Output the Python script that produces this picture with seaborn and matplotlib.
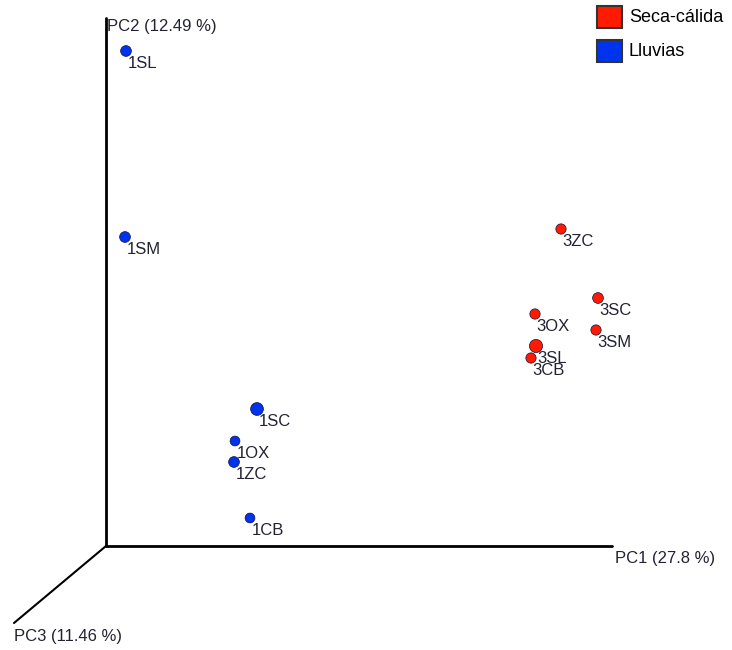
import matplotlib.pyplot as plt
import seaborn as sns
import pandas as pd
from matplotlib.patches import Rectangle

# =========================
# DATA (projected positions of the 3D PCoA)
# =========================
samples = ["1SL", "1SM", "1SC", "1OX", "1ZC", "1CB",
           "3ZC", "3SC", "3OX", "3SM", "3SL", "3CB"]
season = ["Lluvias"] * 6 + ["Seca-cálida"] * 6
screen_x = [126, 125, 257, 235, 234, 250, 561, 598, 535, 596, 536, 531]
screen_y = [51, 237, 409, 441, 462, 518, 229, 298, 314, 330, 346, 358]
depth_size = [60, 60, 85, 50, 60, 50, 55, 60, 55, 55, 90, 55]

axis_labels = ["PC1 (27.8 %)", "PC2 (12.49 %)", "PC3 (11.46 %)"]
legend_labels = ["Seca-cálida", "Lluvias"]
colors = {"Seca-cálida": "#ff1a00", "Lluvias": "#0033ee"}

df = pd.DataFrame({"sample": samples, "season": season,
                   "x": screen_x, "y": screen_y, "size": depth_size})

# =========================
# FIGURE
# =========================
sns.set_style("white")
plt.rcParams['font.family'] = ['Liberation Sans', 'DejaVu Sans']

fig = plt.figure(figsize=(7.32, 6.5), dpi=100)
ax = fig.add_axes([0, 0, 1, 1])
ax.set_xlim(0, 732)
ax.set_ylim(650, 0)
ax.axis("off")

# axes of the 3D box
origin = (106, 546)
ax.plot([origin[0], 612], [origin[1], origin[1]], color="black", lw=2)
ax.plot([origin[0], origin[0]], [origin[1], 18], color="black", lw=2)
ax.plot([origin[0], 14], [origin[1], 623], color="black", lw=1.5)

txt_color = "#222233"
ax.text(615, 558, axis_labels[0], fontsize=12, color=txt_color, va="center")
ax.text(107, 27, axis_labels[1], fontsize=12, color=txt_color, va="center")
ax.text(14, 636, axis_labels[2], fontsize=12, color=txt_color, va="center")

sns.scatterplot(data=df, x="x", y="y", hue="season", palette=colors,
                size="size", sizes=(50, 90), edgecolor="#101040",
                linewidth=0.5, legend=False, ax=ax, zorder=3)

for _, r in df.iterrows():
    ax.annotate(r["sample"], (r["x"], r["y"]), xytext=(1, -9),
                textcoords="offset points", fontsize=12, color=txt_color,
                va="center", ha="left")

# legend boxes
for i, lab in enumerate(legend_labels):
    y0 = 6 + i * 34
    ax.add_patch(Rectangle((597, y0), 25, 22, facecolor=colors[lab],
                           edgecolor="#333333", lw=1.5))
    ax.text(629, y0 + 11, lab, fontsize=13, color="black", va="center")

plt.savefig("out.png", dpi=100)
plt.close()
